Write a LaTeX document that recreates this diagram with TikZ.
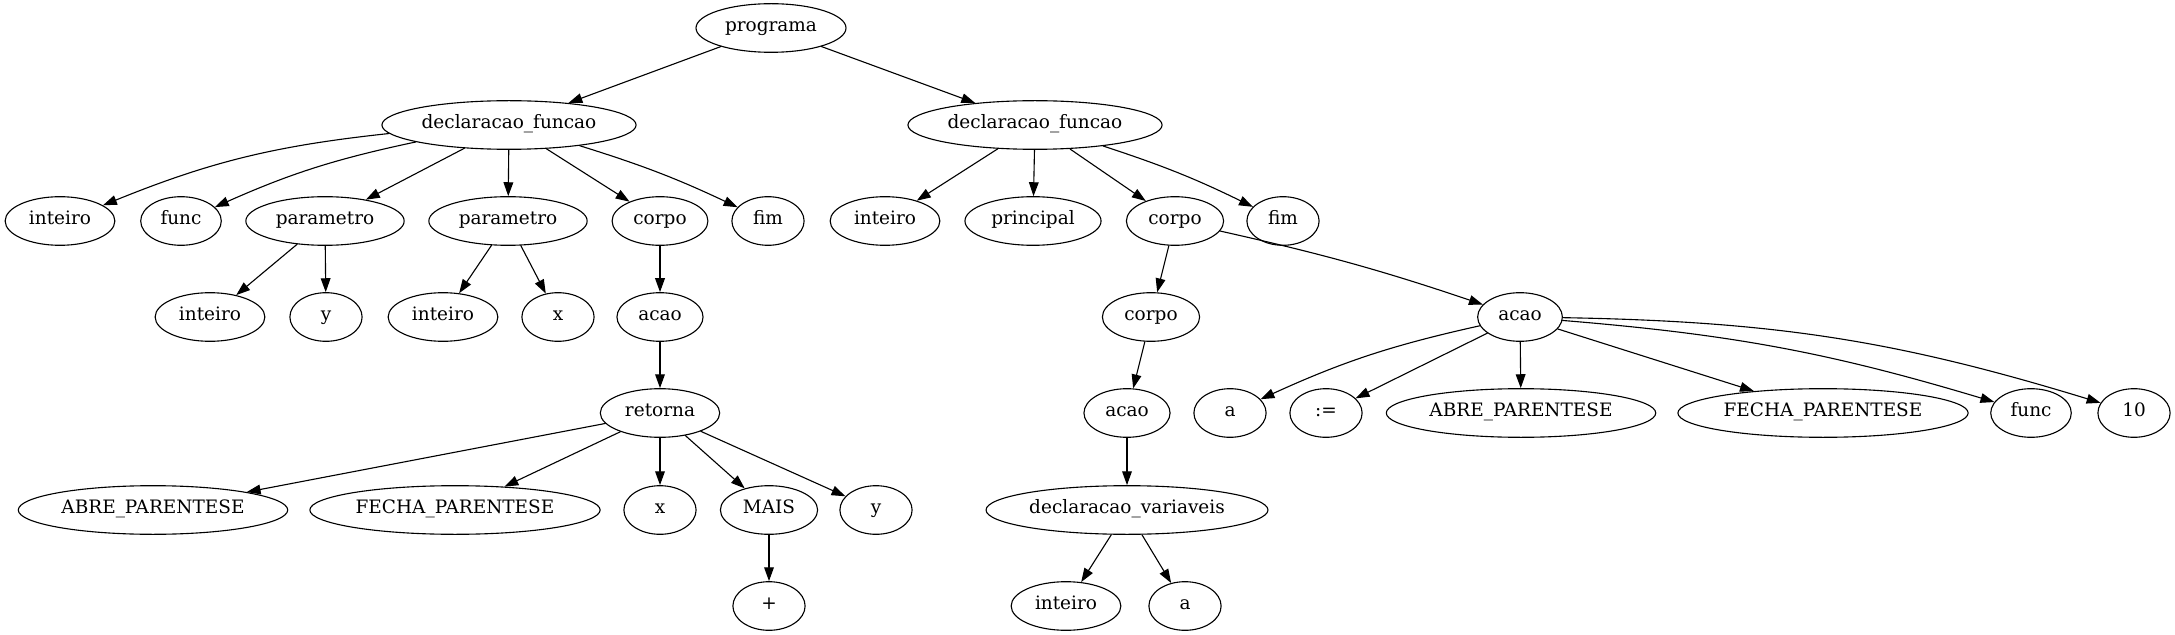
\documentclass[tikz,border=0pt]{standalone}
\usepackage{fontspec}
\setmainfont{DejaVu Serif}
\usetikzlibrary{shapes.geometric,arrows.meta}

\begin{document}
\begin{tikzpicture}[x=0.72pt,y=-0.72pt,line cap=round,line join=round,
    no/.style={ellipse,draw,line width=0.8pt,inner sep=0pt,
        minimum height=35pt,minimum width=#1,
        text height=0.7em,text depth=0.15em,
        font=\fontsize{13.3}{16}\selectfont},
    no/.default=52pt,
    ramo/.style={-{Triangle[length=10pt,width=7pt]},line width=0.8pt}]
        \def\yA{28}
        \def\yB{125}
        \def\yC{221}
        \def\yD{317}
        \def\yE{413}
        \def\yF{510}
        \def\yG{606}

        \useasboundingbox (0,0) rectangle (2175,635);

        % Raiz e as duas funcoes
        \node[no=108pt] (prog) at (771,\yA) {programa};
        \node[no=183pt] (dfA) at (509,\yB) {declaracao\_funcao};
        \node[no=183pt] (dfB) at (1035,\yB) {declaracao\_funcao};

        % Primeira funcao
        \node[no=79pt] (intA) at (60,\yC) {inteiro};
        \node[no=58pt] (funcA) at (181,\yC) {func};
        \node[no=114pt] (parA) at (325,\yC) {parametro};
        \node[no=114pt] (parB) at (508,\yC) {parametro};
        \node[no=69pt] (corA) at (660,\yC) {corpo};
        \node[no] (fimA) at (768,\yC) {fim};
        \node[no=79pt] (intB) at (210,\yD) {inteiro};
        \node[no] (idY) at (326,\yD) {y};
        \node[no=79pt] (intC) at (443,\yD) {inteiro};
        \node[no] (idX) at (558,\yD) {x};
        \node[no=62pt] (acaoA) at (660,\yD) {acao};
        \node[no=86pt] (ret) at (660,\yE) {retorna};
        \node[no=194pt] (abreA) at (153,\yF) {ABRE\_PARENTESE};
        \node[no=209pt] (fechaA) at (455,\yF) {FECHA\_PARENTESE};
        \node[no] (retX) at (660,\yF) {x};
        \node[no=70pt] (mais) at (769,\yF) {MAIS};
        \node[no] (retY) at (876,\yF) {y};
        \node[no] (plus) at (769,\yG) {+};

        % Funcao principal
        \node[no=79pt] (intD) at (885,\yC) {inteiro};
        \node[no=98pt] (princ) at (1033,\yC) {principal};
        \node[no=70pt] (corB) at (1175,\yC) {corpo};
        \node[no] (fimB) at (1283,\yC) {fim};
        \node[no=70pt] (corC) at (1151,\yD) {corpo};
        \node[no=61pt] (acaoB) at (1520,\yD) {acao};
        \node[no=62pt] (acaoC) at (1127,\yE) {acao};
        \node[no=203pt] (declvar) at (1127,\yF) {declaracao\_variaveis};
        \node[no=79pt] (intE) at (1066,\yG) {inteiro};
        \node[no] (varA) at (1185,\yG) {a};
        \node[no] (atA) at (1230,\yE) {a};
        \node[no] (atrib) at (1326,\yE) {:=};
        \node[no=194pt] (abreB) at (1521,\yE) {ABRE\_PARENTESE};
        \node[no=209pt] (fechaB) at (1823,\yE) {FECHA\_PARENTESE};
        \node[no=58pt] (funcB) at (2031,\yE) {func};
        \node[no] (dez) at (2134,\yE) {10};

        % Arestas
        \foreach \a/\b in {prog/dfA,prog/dfB,dfA/parA,dfA/parB,dfA/corA,
            parA/intB,parA/idY,parB/intC,parB/idX,corA/acaoA,acaoA/ret,
            ret/abreA,ret/fechaA,ret/retX,ret/mais,ret/retY,mais/plus,
            dfB/intD,dfB/princ,dfB/corB,corB/corC,corC/acaoC,acaoC/declvar,
            declvar/intE,declvar/varA,acaoB/atrib,acaoB/abreB,acaoB/fechaB} {
            \draw[ramo] (\a) -- (\b);
        }
        \draw[ramo] (dfA) to[bend right=8] (intA);
        \draw[ramo] (dfA) to[bend right=6] (funcA);
        \draw[ramo] (dfA) to[bend left=4] (fimA);
        \draw[ramo] (dfB) to[bend left=4] (fimB);
        \draw[ramo] (corB) to[bend left=3] (acaoB);
        \draw[ramo] (acaoB) to[bend right=6] (atA);
        \draw[ramo] (acaoB) to[bend left=6] (funcB);
        \draw[ramo] (acaoB) to[bend left=8] (dez);
\end{tikzpicture}
\end{document}
